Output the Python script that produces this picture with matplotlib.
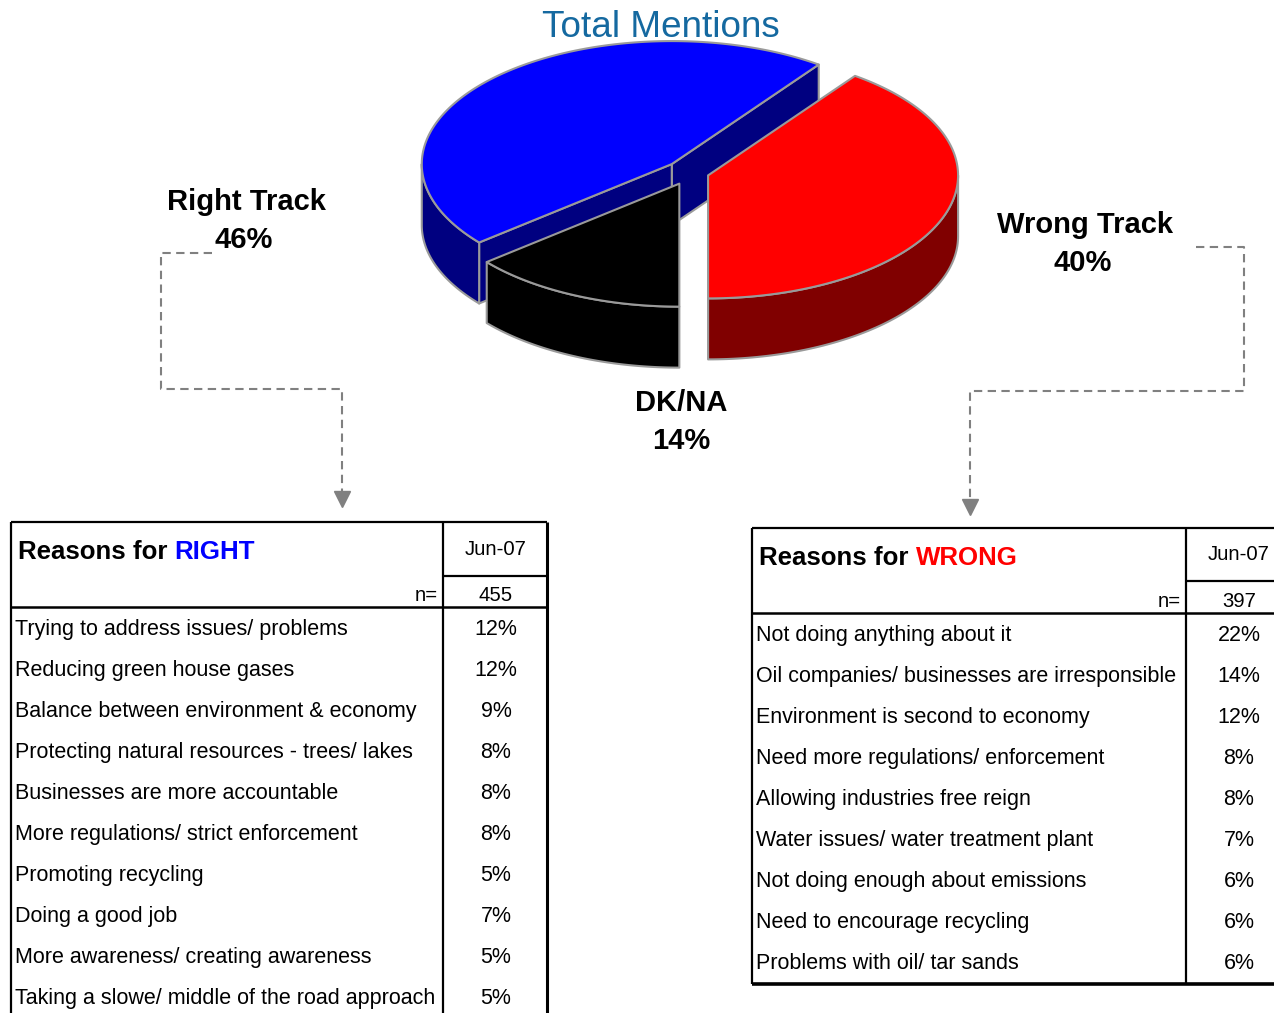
import numpy as np
import matplotlib
matplotlib.use("Agg")
import matplotlib.pyplot as plt
from matplotlib.patches import Polygon

plt.rcParams['font.family'] = ['Liberation Sans', 'DejaVu Sans']

# ---------------- data ----------------
pie_labels = ['Wrong Track', 'Right Track', 'DK/NA']
pie_values = [40, 46, 14]

right_title = 'RIGHT'
right_period = 'Jun-07'
right_n = 455
right_reasons = ['Trying to address issues/ problems',
                 'Reducing green house gases',
                 'Balance between environment & economy',
                 'Protecting natural resources - trees/ lakes',
                 'Businesses are more accountable',
                 'More regulations/ strict enforcement',
                 'Promoting recycling',
                 'Doing a good job',
                 'More awareness/ creating awareness',
                 'Taking a slowe/ middle of the road approach']
right_values = [12, 12, 9, 8, 8, 8, 5, 7, 5, 5]

wrong_title = 'WRONG'
wrong_period = 'Jun-07'
wrong_n = 397
wrong_reasons = ['Not doing anything about it',
                 'Oil companies/ businesses are irresponsible',
                 'Environment is second to economy',
                 'Need more regulations/ enforcement',
                 'Allowing industries free reign',
                 'Water issues/ water treatment plant',
                 'Not doing enough about emissions',
                 'Need to encourage recycling',
                 'Problems with oil/ tar sands']
wrong_values = [22, 14, 12, 8, 8, 7, 6, 6, 6]

# ---------------- styles ----------------
top_colors = ['#FF0000', '#0000FF', '#000000']
side_colors = ['#800000', '#000080', '#000000']
explode = [0.076, 0.10, 0.10]
edge_col = '#9a9a9a'

fig = plt.figure(figsize=(12.74, 10.13), dpi=100)
ax = fig.add_axes([0, 0, 1, 1])
ax.set_xlim(0, 1274)
ax.set_ylim(1013, 0)
ax.axis('off')

# ---------------- 3D pie ----------------
cx, cy = 690, 172.5
rx, ry, depth = 250, 123, 61
start = -90.0
total = float(sum(pie_values))

def pt(c, th, dz=0.0):
    t = np.deg2rad(th)
    return (c[0] + rx * np.cos(t), c[1] - ry * np.sin(t) + dz)

wedges = []
a = start
for i, v in enumerate(pie_values):
    span = 360.0 * v / total
    wedges.append((i, a, a + span))
    a += span

elw = 1.5
order = sorted(wedges, key=lambda w: -np.sin(np.deg2rad((w[1] + w[2]) / 2)))
for i, t1, t2 in order:
    mid = np.deg2rad((t1 + t2) / 2)
    c = (cx + explode[i] * rx * np.cos(mid), cy - explode[i] * ry * np.sin(mid))
    for th, vis in ((t1, np.cos(np.deg2rad(t1)) > 1e-6),
                    (t2, np.cos(np.deg2rad(t2)) < -1e-6)):
        if vis:
            p = pt(c, th)
            poly = [c, p, (p[0], p[1] + depth), (c[0], c[1] + depth)]
            ax.add_patch(Polygon(poly, closed=True, fc=side_colors[i],
                                 ec=edge_col, lw=elw, joinstyle='round'))
    for lo, hi in ((180, 360), (-180, 0), (540, 720)):
        s, e = max(t1, lo), min(t2, hi)
        if e > s:
            ths = np.linspace(s, e, 80)
            topa = [pt(c, th) for th in ths]
            bota = [pt(c, th, depth) for th in ths[::-1]]
            ax.add_patch(Polygon(topa + bota, closed=True, fc=side_colors[i],
                                 ec=edge_col, lw=elw, joinstyle='round'))
    ths = np.linspace(t1, t2, 150)
    poly = [c] + [pt(c, th) for th in ths]
    ax.add_patch(Polygon(poly, closed=True, fc=top_colors[i], ec=edge_col,
                         lw=elw, joinstyle='round'))

# ---------------- labels ----------------
ax.text(661, 27, 'Total Mentions', ha='center', va='center', fontsize=26.6,
        color='#1569A0')
lab_pos = {'Right Track': (246, 202, 244, 240),
           'Wrong Track': (1085, 225, 1083, 263),
           'DK/NA': (681, 403, 681, 441)}
for lab, v in zip(pie_labels, pie_values):
    x1, y1, x2, y2 = lab_pos[lab]
    ax.text(x1, y1, lab, ha='center', va='center', fontsize=21, fontweight='bold')
    ax.text(x2, y2, f'{v}%', ha='center', va='center', fontsize=21, fontweight='bold')

# ---------------- dashed connectors ----------------
dcol = '#808080'
ax.plot([212, 161, 161, 342, 342], [253, 253, 389, 389, 492], color=dcol,
        lw=1.5, dashes=(4, 2.6))
ax.plot([342], [499], marker='v', ms=11, color=dcol, mec=dcol)
ax.plot([1196, 1244, 1244, 970, 970], [247, 247, 391, 391, 500], color=dcol,
        lw=1.5, dashes=(4, 2.6))
ax.plot([970], [507], marker='v', ms=11, color=dcol, mec=dcol)

# ---------------- tables ----------------
def draw_table(x0, x1, xdiv, ytop, yjun, yn, ybot, title, tcolor, period, n,
               reasons, values, bottom_line, xc):
    k = dict(color='black', solid_capstyle='butt')
    ax.plot([x0, x1], [ytop, ytop], lw=1.6, **k)
    ax.plot([x0, x0], [ytop, ybot], lw=1.6, **k)
    ax.plot([x1, x1], [ytop, ybot], lw=2.2, **k)
    ax.plot([xdiv, xdiv], [ytop, ybot], lw=1.6, **k)
    ax.plot([xdiv, x1], [yjun, yjun], lw=1.6, **k)
    ax.plot([x0, x1], [yn, yn], lw=1.8, **k)
    if bottom_line:
        ax.plot([x0, x1], [ybot, ybot], lw=2.6, **k)
    t1 = ax.text(x0 + 7, (ytop + yjun) / 2 + 3, 'Reasons for ', ha='left',
                 va='center', fontsize=18.6, fontweight='bold')
    ax.annotate(title, xy=(1, 0), xycoords=t1, ha='left', va='bottom',
                fontsize=18.6, fontweight='bold', color=tcolor)
    ax.text(xc, (ytop + yjun) / 2, period, ha='center', va='center', fontsize=14.6)
    ax.text(xdiv - 5, (yjun + yn) / 2 + 4, 'n=', ha='right', va='center', fontsize=14.6)
    ax.text(xc, (yjun + yn) / 2 + 4, str(n), ha='center', va='center', fontsize=14.6)
    for j, (r, v) in enumerate(zip(reasons, values)):
        yy = yn + 22 + 41 * j
        ax.text(x0 + 4, yy, r, ha='left', va='center', fontsize=15.5)
        ax.text(xc, yy, f'{v}%', ha='center', va='center', fontsize=15.5)

draw_table(11, 547, 443, 522, 576, 607, 1030, right_title, '#0000FF',
           right_period, right_n, right_reasons, right_values, False, 496)
draw_table(752, 1290, 1186, 528, 581, 613, 984, wrong_title, '#FF0000',
           wrong_period, wrong_n, wrong_reasons, wrong_values, True, 1239)

fig.savefig('out.png', dpi=100)
